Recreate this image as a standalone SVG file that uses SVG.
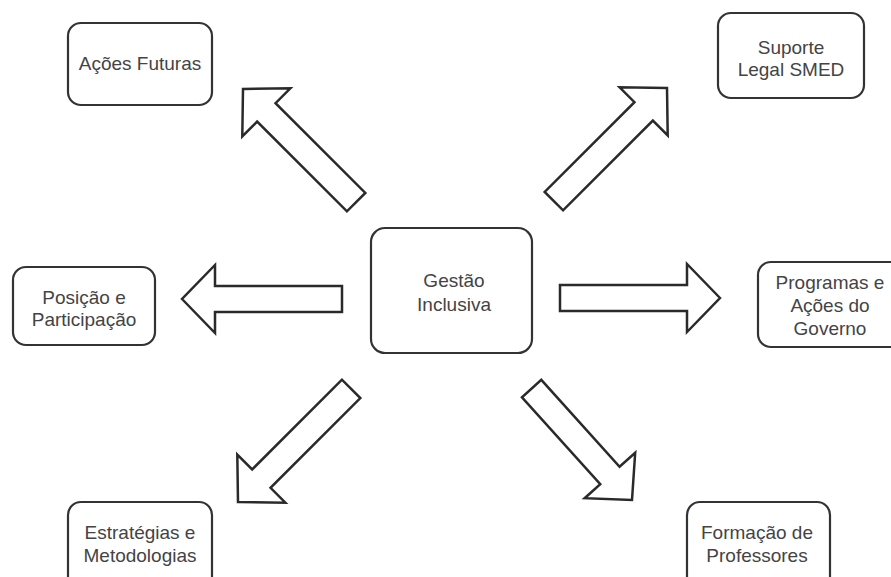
<svg xmlns="http://www.w3.org/2000/svg" width="891" height="577" viewBox="0 0 891 577">
<defs>
<style>
.box{fill:#fff;stroke:#333;stroke-width:2.2}
.lbl{font-family:"Liberation Sans",Arial,sans-serif;font-size:19px;fill:#444;text-anchor:middle}
.arr{fill:#fff;stroke:#2a2a2a;stroke-width:2.5;stroke-linejoin:miter}
</style>
<path id="ar" d="M0,0 L-33,-34 L-33,-13 L-160,-13 L-160,13 L-33,13 L-33,34 Z"/>
<path id="ar2" d="M0,0 L-33,-34 L-33,-13 L-150,-13 L-150,13 L-33,13 L-33,34 Z"/>
</defs>
<rect width="891" height="577" fill="#fff"/>
<g id="connectors">
<use href="#ar" class="arr" transform="translate(243,89) rotate(225)"/>
<use href="#ar" class="arr" transform="translate(667,88) rotate(-45)"/>
<use href="#ar" class="arr" transform="translate(182,299) rotate(180)"/>
<use href="#ar" class="arr" transform="translate(720,298)"/>
<use href="#ar" class="arr" transform="translate(238,502) rotate(135)"/>
<use href="#ar2" class="arr" transform="translate(632,500) rotate(48)"/>
</g>
<g id="n-acoes-futuras">
<rect class="box" x="68" y="23" width="144" height="82" rx="13"/>
<text class="lbl" x="140" y="70">Ações Futuras</text>
</g>
<g id="n-suporte">
<rect class="box" x="718" y="13" width="146" height="85" rx="13"/>
<text class="lbl" x="791" y="54">Suporte</text>
<text class="lbl" x="791" y="76">Legal SMED</text>
</g>
<g id="n-gestao">
<rect class="box" x="371" y="228" width="161" height="125" rx="14"/>
<text class="lbl" x="454" y="287">Gestão</text>
<text class="lbl" x="454" y="311">Inclusiva</text>
</g>
<g id="n-posicao">
<rect class="box" x="13" y="267" width="142" height="78" rx="13"/>
<text class="lbl" x="84" y="304">Posição e</text>
<text class="lbl" x="84" y="326">Participação</text>
</g>
<g id="n-programas">
<rect class="box" x="758" y="262" width="146" height="85" rx="13"/>
<text class="lbl" x="830" y="289">Programas e</text>
<text class="lbl" x="830" y="312">Ações do</text>
<text class="lbl" x="830" y="335">Governo</text>
</g>
<g id="n-estrategias">
<rect class="box" x="68" y="502" width="144" height="90" rx="13"/>
<text class="lbl" x="140" y="539">Estratégias e</text>
<text class="lbl" x="140" y="562">Metodologias</text>
</g>
<g id="n-formacao">
<rect class="box" x="687" y="502" width="143" height="90" rx="13"/>
<text class="lbl" x="757" y="539">Formação de</text>
<text class="lbl" x="757" y="562">Professores</text>
</g>
</svg>
